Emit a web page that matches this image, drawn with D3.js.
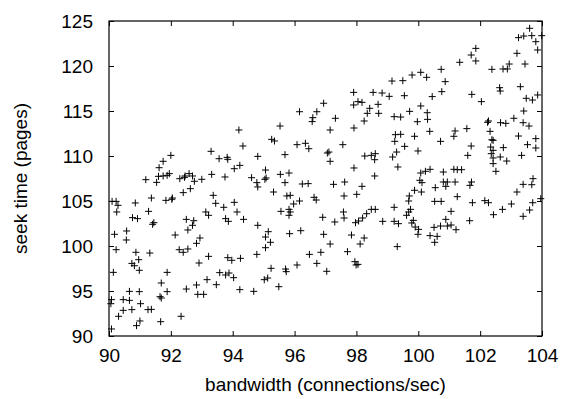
<!DOCTYPE html>
<html><head><meta charset="utf-8">
<script src="https://cdn.jsdelivr.net/npm/d3@7"></script>
<style>body{margin:0;background:#fff}svg{display:block}</style>
</head><body>
<svg id="c" width="574" height="399"></svg>
<script>
const xTickValues = [90, 92, 94, 96, 98, 100, 102, 104];
const yTickValues = [90, 95, 100, 105, 110, 115, 120, 125];
const xLabel = "bandwidth (connections/sec)";
const yLabel = "seek time (pages)";

const bandwidth = [
96.94,96.16,96.72,96.59,96.57,
97.32,97.91,97.91,98.05,98.18,98.43,98.35,98.25,98.72,98.7,98.54,98.83,99.06,99.15,99.5,99.55,99.8,100.08,100.27,100.74,100.76,100.45,99.72,100.08,100.29,100.3,99.97,99.22,99.43,
100.87,101.34,101.71,101.86,101.86,102.38,102.74,102.88,102.94,103.19,103.24,103.41,103.6,103.67,103.8,103.86,103.99,103.45,102.63,102.65,103.3,101.73,102.04,103.49,103.69,103.86,103.41,102.27,102.24,102.66,102.83,103.09,103.39,
103.58,100.72,101.19,101.15,101.57,102.32,102.38,102.42,101.71,102.34,102.42,102.75,103.24,103.8,103.53,103.8,103.34,101.6,102.36,102.42,102.65,102.86,102.42,102.51,100.81,101.15,101.26,101.4,100.81,100.94,101.19,100.89,101.72,101.67,103.71,103.39,103.67,103.19,101.26,100.74,101.75,102.15,102.27,103.01,102.43,102.72,103.6,103.7,103.96,101.06,100.89,101.66,103.39,100.72,100.94,101.06,101.22,
97.15,97.92,100.37,99.26,99.43,99.24,99.88,99.56,97.56,97.06,97.11,97.15,98.27,98.48,98.61,98.59,99.17,99.3,99.99,97.92,98.59,99.34,100.08,100.23,100.38,100.05,100.12,97.26,97.62,98.18,100.55,97.6,98.01,99.71,99.69,99.88,100.1,100.53,99.22,99.75,99.69,99.62,98.48,98.61,98.33,98.2,98.07,97.97,97.58,97.6,96.91,97.3,98.85,99.22,99.36,99.84,99.79,99.9,100.01,100.51,
96.94,97.84,98.25,97.15,98.12,97.71,97.04,97.95,97.99,98.05,99.32,99.99,100.38,100.61,100.53,
93.22,93.17,93.47,93.58,93.77,93.88,94.03,93.84,93.97,94.25,94.23,94.68,94.78,95.06,95.06,95.15,95.22,95.24,95.02,95.13,95.49,95.71,95.73,95.84,96.08,96.2,96.48,96.72,96.85,
90.18,90.57,90.56,92.14,92.55,92.94,92.83,90.23,90.87,91.32,90.96,90.74,90.82,90.98,92.27,92.4,92.55,90.14,91.88,92.91,91.69,91.88,90.66,90.98,92.5,92.83,92.87,93.06,90.08,90.06,90.46,90.66,91.02,91.65,91.69,90.46,90.74,91.26,91.37,90.31,92.33,91.0,90.89,91.67,90.08,
92.0,91.75,91.62,91.6,91.75,91.88,91.95,91.19,91.54,92.29,92.44,92.46,92.59,92.7,92.76,93.0,92.63,92.4,90.1,90.23,90.29,90.85,91.37,91.84,92.03,92.05,90.25,91.28,90.76,90.92,91.41,91.45,92.5,92.74,92.7,93.13,
94.2,95.53,94.33,95.26,95.35,96.08,96.35,96.46,93.3,93.56,93.82,93.84,94.23,94.05,94.81,95.69,93.32,93.75,95.06,94.61,94.78,94.81,95.04,95.08,95.54,95.82,95.69,96.25,96.44,95.32,95.75,95.86,95.97,96.16,96.63,96.7,93.37,93.45,94.05,93.71,94.14,93.22,93.77,93.86,94.35,94.81,95.56,95.82,95.86,95.82
];
const seekTime = [
115.86,114.92,114.92,114.26,113.82,
114.19,117.07,115.67,116.04,115.96,115.3,114.74,113.89,114.74,115.74,117.07,117.0,116.63,118.33,118.37,116.7,119.0,119.3,118.74,119.63,117.15,116.6,114.96,115.56,114.81,114.07,113.81,114.37,114.33,
118.26,120.41,121.22,121.96,120.56,119.63,119.67,119.67,120.22,121.41,123.15,123.33,124.19,123.37,122.7,121.78,123.37,120.22,117.59,117.22,117.7,116.85,116.04,116.41,116.22,116.78,115.0,113.89,113.74,113.7,113.63,114.19,113.7,
113.33,111.63,112.78,112.19,113.04,112.74,111.81,111.74,111.11,111.0,110.63,110.93,112.22,111.93,111.26,110.89,110.07,110.07,110.26,109.78,109.89,109.44,109.15,108.3,108.22,108.52,108.48,108.48,107.11,107.11,107.11,106.63,107.11,106.74,107.48,106.85,106.81,106.0,105.48,104.96,104.81,105.04,104.81,104.67,103.48,104.07,104.0,104.81,105.26,103.85,102.96,102.81,103.3,102.22,102.22,102.33,101.81,
112.89,113.11,112.74,112.37,112.41,111.63,112.19,111.07,111.26,110.33,110.44,109.41,110.0,110.07,110.26,109.59,109.89,110.44,110.56,108.67,107.78,108.78,108.11,108.3,108.52,107.3,107.04,106.85,107.11,106.63,106.48,105.56,105.74,105.56,105.0,106.19,106.0,104.96,104.3,104.07,103.78,103.41,104.07,104.07,103.59,103.11,102.78,102.59,103.78,103.11,103.19,102.67,102.74,102.74,102.48,102.85,102.56,102.11,101.85,102.07,
101.3,101.22,100.89,100.22,100.22,99.37,97.19,98.26,97.89,97.96,99.93,101.3,101.15,101.07,100.41,
98.85,96.26,95.7,97.04,96.78,97.0,96.48,98.7,98.41,98.63,95.15,94.96,99.07,99.81,101.0,101.59,100.41,97.52,96.26,96.44,95.48,97.44,97.15,101.37,97.89,101.7,99.07,98.07,99.3,
101.3,101.67,100.67,101.22,101.78,100.89,100.3,99.59,99.3,99.22,98.48,98.07,97.81,97.3,99.59,99.3,99.67,97.07,97.07,98.11,95.89,94.93,94.96,94.93,95.22,95.67,94.63,94.63,94.04,93.59,94.04,93.96,93.59,94.37,94.22,92.85,92.93,92.93,92.96,92.19,92.19,91.67,91.15,91.59,90.78,
110.07,109.41,108.7,107.74,107.78,107.85,108.04,107.37,107.07,107.48,107.63,107.78,108.04,107.78,107.19,107.41,106.37,105.93,104.96,104.96,104.52,104.78,105.33,105.07,105.19,105.33,103.78,103.85,103.15,103.04,102.41,102.59,102.96,102.81,102.3,103.78,
112.89,113.33,111.11,111.85,111.67,111.26,111.41,110.81,110.52,109.7,109.85,109.63,108.96,108.59,109.96,110.15,107.96,107.67,108.44,107.59,107.04,106.56,107.41,107.56,107.96,108.11,107.04,106.89,106.93,106.0,105.56,105.63,104.67,105.0,105.41,105.11,105.63,104.74,104.85,104.3,103.78,103.41,103.04,102.74,102.96,102.3,103.85,104.07,103.78,103.41
];

const W = 574, H = 399;
const plot = {left: 109, right: 542, top: 21, bottom: 336};
const svg = d3.select("#c");
const font = "'Liberation Sans', Arial, Helvetica, sans-serif";
const fs = 19;

const x = d3.scaleLinear().domain([90, 104]).range([plot.left, plot.right]);
const y = d3.scaleLinear().domain([90, 125]).range([plot.bottom, plot.top]);

const tickLen = 5;
const axisStyle = g => {
  g.select(".domain").remove();
  g.selectAll("line").attr("stroke", "#000").attr("stroke-width", 1);
  g.selectAll("text").attr("font-family", font).attr("font-size", fs).attr("fill", "#000");
};

svg.append("g").attr("transform", `translate(0,${plot.bottom})`)
  .call(d3.axisBottom(x).tickValues(xTickValues).tickFormat(d3.format("d")).tickSizeInner(-tickLen).tickSizeOuter(0).tickPadding(13))
  .call(axisStyle);
svg.append("g").attr("transform", `translate(0,${plot.top})`)
  .call(d3.axisTop(x).tickValues(xTickValues).tickFormat("").tickSizeInner(-tickLen).tickSizeOuter(0))
  .call(axisStyle);
svg.append("g").attr("transform", `translate(${plot.left},0)`)
  .call(d3.axisLeft(y).tickValues(yTickValues).tickFormat(d3.format("d")).tickSizeInner(-tickLen).tickSizeOuter(0).tickPadding(16))
  .call(axisStyle);
svg.append("g").attr("transform", `translate(${plot.right},0)`)
  .call(d3.axisRight(y).tickValues(yTickValues).tickFormat("").tickSizeInner(-tickLen).tickSizeOuter(0))
  .call(axisStyle);

svg.append("rect")
  .attr("x", plot.left).attr("y", plot.top)
  .attr("width", plot.right - plot.left).attr("height", plot.bottom - plot.top)
  .attr("fill", "none").attr("stroke", "#000").attr("stroke-width", 1.2);

const data = bandwidth.map((b, i) => ({b, s: seekTime[i]}));
svg.append("g").selectAll("path").data(data).join("path")
  .attr("transform", d => `translate(${x(d.b)},${y(d.s)})`)
  .attr("d", "M-3.5,0H3.5M0,-3.5V3.5")
  .attr("stroke", "#000").attr("stroke-width", 1).attr("fill", "none");

svg.append("text").attr("x", (plot.left + plot.right) / 2).attr("y", 391)
  .attr("text-anchor", "middle").attr("font-family", font).attr("font-size", fs)
  .text(xLabel);
svg.append("text")
  .attr("transform", `translate(27,${(plot.top + plot.bottom) / 2}) rotate(-90)`)
  .attr("text-anchor", "middle").attr("font-family", font).attr("font-size", fs)
  .text(yLabel);
</script>
</body></html>
